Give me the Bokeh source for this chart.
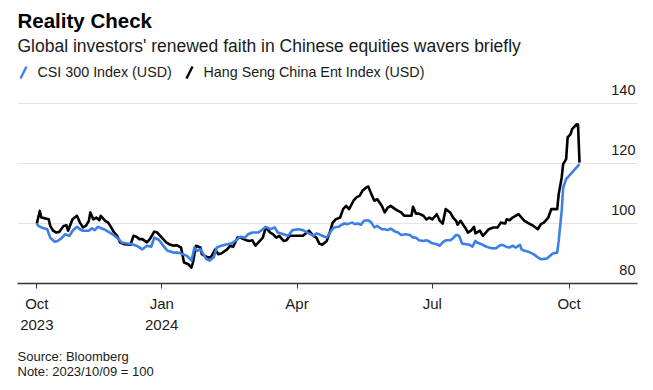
import pandas as pd
from bokeh.plotting import figure
from bokeh.layouts import column
from bokeh.models import FixedTicker, Range1d
from bokeh.embed import file_html
from bokeh.resources import INLINE
from bokeh.core.properties import value

# ---------------- data ----------------
hs_dates = [
    "2023-10-09", "2023-10-11", "2023-10-12", "2023-10-14", "2023-10-17", "2023-10-18", "2023-10-20",
    "2023-10-22", "2023-10-24", "2023-10-27", "2023-10-29", "2023-10-30", "2023-11-02", "2023-11-05",
    "2023-11-07", "2023-11-09", "2023-11-11", "2023-11-13", "2023-11-14", "2023-11-16", "2023-11-18",
    "2023-11-20", "2023-11-21", "2023-11-24", "2023-11-26", "2023-11-28", "2023-11-30", "2023-12-02",
    "2023-12-04", "2023-12-07", "2023-12-11", "2023-12-13", "2023-12-15", "2023-12-17", "2023-12-19",
    "2023-12-22", "2023-12-24", "2023-12-27", "2023-12-29", "2023-12-31", "2024-01-02", "2024-01-04",
    "2024-01-06", "2024-01-09", "2024-01-11", "2024-01-14", "2024-01-16", "2024-01-19", "2024-01-21",
    "2024-01-22", "2024-01-24", "2024-01-27", "2024-01-28", "2024-01-30", "2024-02-01", "2024-02-03",
    "2024-02-06", "2024-02-08", "2024-02-10", "2024-02-14", "2024-02-16", "2024-02-18", "2024-02-21",
    "2024-02-23", "2024-02-25", "2024-02-27", "2024-02-29", "2024-03-02", "2024-03-04", "2024-03-07",
    "2024-03-09", "2024-03-11", "2024-03-14", "2024-03-16", "2024-03-18", "2024-03-20", "2024-03-23",
    "2024-03-25", "2024-03-27", "2024-03-31", "2024-04-05", "2024-04-09", "2024-04-12", "2024-04-14",
    "2024-04-16", "2024-04-18", "2024-04-21", "2024-04-23", "2024-04-25", "2024-04-27", "2024-04-30",
    "2024-05-02", "2024-05-04", "2024-05-06", "2024-05-09", "2024-05-11", "2024-05-13", "2024-05-15",
    "2024-05-18", "2024-05-19", "2024-05-21", "2024-05-23", "2024-05-25", "2024-05-28", "2024-05-30",
    "2024-06-01", "2024-06-03", "2024-06-06", "2024-06-08", "2024-06-10", "2024-06-12", "2024-06-17",
    "2024-06-18", "2024-06-20", "2024-06-22", "2024-06-25", "2024-06-27", "2024-06-29", "2024-07-01",
    "2024-07-04", "2024-07-06", "2024-07-08", "2024-07-10", "2024-07-13", "2024-07-15", "2024-07-17",
    "2024-07-18", "2024-07-20", "2024-07-23", "2024-07-25", "2024-07-27", "2024-07-29", "2024-07-30",
    "2024-08-02", "2024-08-04", "2024-08-06", "2024-08-08", "2024-08-11", "2024-08-14", "2024-08-16",
    "2024-08-19", "2024-08-20", "2024-08-22", "2024-08-24", "2024-08-28", "2024-08-30", "2024-09-01",
    "2024-09-03", "2024-09-07", "2024-09-10", "2024-09-12", "2024-09-14", "2024-09-17", "2024-09-19",
    "2024-09-23", "2024-09-24", "2024-09-26", "2024-09-27", "2024-09-29", "2024-09-30", "2024-10-02",
    "2024-10-03", "2024-10-06", "2024-10-07", "2024-10-08",
]
hs_values = [
    100.0, 104.2, 102.0, 101.8, 101.4, 99.2, 97.6,
    97.0, 97.2, 99.2, 99.4, 97.6, 101.4, 102.6,
    100.3, 98.7, 99.2, 100.9, 103.7, 101.4, 102.0,
    101.1, 102.6, 100.9, 100.3, 98.7, 97.0, 95.9,
    93.7, 93.1, 92.9, 95.9, 95.6, 94.8, 94.8,
    93.7, 94.8, 97.3, 97.0, 95.9, 94.8, 93.7,
    93.1, 92.6, 92.8, 92.0, 87.0, 86.4, 85.3,
    87.0, 92.6, 92.0, 89.8, 89.2, 88.7, 88.7,
    91.4, 89.8, 90.0, 91.4, 92.6, 92.2, 95.3,
    95.3, 94.8, 94.4, 94.2, 94.4, 92.6, 94.2,
    95.3, 98.7, 97.0, 96.4, 95.3, 95.9, 94.2,
    94.4, 95.9, 95.9, 95.9, 97.6, 95.9, 95.3,
    93.3, 92.9, 94.2, 97.0, 100.3, 101.4, 102.0,
    104.8, 105.9, 104.8, 107.6, 108.7, 109.2, 110.9,
    112.2, 112.3, 109.8, 107.6, 108.1, 105.9, 103.7,
    105.3, 105.9, 104.8, 104.2, 103.7, 102.6, 102.6,
    105.6, 103.3, 103.3, 102.6, 101.4, 102.0, 101.4,
    103.1, 100.9, 100.0, 104.8, 103.7, 102.0, 100.9,
    99.6, 100.9, 98.7, 97.0, 97.6, 98.9, 96.7,
    97.6, 95.9, 97.0, 98.1, 98.7, 98.7, 100.3,
    100.0, 101.4, 101.1, 102.0, 103.1, 102.0, 100.9,
    100.3, 99.2, 98.1, 99.8, 100.3, 102.0, 104.8,
    104.8, 109.8, 115.3, 119.8, 121.5, 128.7, 129.8,
    131.5, 133.1, 133.0, 120.3,
]

csi_dates = [
    "2023-10-09", "2023-10-10", "2023-10-12", "2023-10-16", "2023-10-18", "2023-10-21", "2023-10-23",
    "2023-10-26", "2023-10-28", "2023-10-31", "2023-11-02", "2023-11-05", "2023-11-07", "2023-11-09",
    "2023-11-13", "2023-11-15", "2023-11-17", "2023-11-19", "2023-11-23", "2023-11-26", "2023-11-29",
    "2023-12-03", "2023-12-05", "2023-12-08", "2023-12-12", "2023-12-15", "2023-12-19", "2023-12-22",
    "2023-12-25", "2023-12-27", "2023-12-30", "2024-01-01", "2024-01-03", "2024-01-05", "2024-01-09",
    "2024-01-12", "2024-01-15", "2024-01-18", "2024-01-21", "2024-01-23", "2024-01-25", "2024-01-27",
    "2024-01-29", "2024-01-31", "2024-02-02", "2024-02-05", "2024-02-07", "2024-02-10", "2024-02-14",
    "2024-02-17", "2024-02-20", "2024-02-23", "2024-02-26", "2024-02-28", "2024-03-02", "2024-03-06",
    "2024-03-09", "2024-03-11", "2024-03-14", "2024-03-17", "2024-03-19", "2024-03-23", "2024-03-26",
    "2024-03-29", "2024-04-02", "2024-04-05", "2024-04-08", "2024-04-12", "2024-04-14", "2024-04-16",
    "2024-04-18", "2024-04-21", "2024-04-24", "2024-04-26", "2024-04-29", "2024-05-01", "2024-05-03",
    "2024-05-05", "2024-05-08", "2024-05-10", "2024-05-12", "2024-05-14", "2024-05-16", "2024-05-19",
    "2024-05-21", "2024-05-23", "2024-05-25", "2024-05-28", "2024-05-30", "2024-06-01", "2024-06-03",
    "2024-06-06", "2024-06-08", "2024-06-10", "2024-06-13", "2024-06-16", "2024-06-18", "2024-06-20",
    "2024-06-22", "2024-06-25", "2024-06-27", "2024-06-29", "2024-07-01", "2024-07-04", "2024-07-06",
    "2024-07-08", "2024-07-10", "2024-07-13", "2024-07-15", "2024-07-17", "2024-07-19", "2024-07-21",
    "2024-07-24", "2024-07-26", "2024-07-28", "2024-07-30", "2024-07-31", "2024-08-04", "2024-08-06",
    "2024-08-08", "2024-08-11", "2024-08-13", "2024-08-15", "2024-08-17", "2024-08-20", "2024-08-22",
    "2024-08-24", "2024-08-26", "2024-08-29", "2024-08-30", "2024-09-01", "2024-09-03", "2024-09-07",
    "2024-09-10", "2024-09-12", "2024-09-16", "2024-09-18", "2024-09-20", "2024-09-23", "2024-09-24",
    "2024-09-26", "2024-09-27", "2024-09-29", "2024-10-02", "2024-10-08",
]
csi_values = [
    100.0, 99.2, 98.7, 98.1, 95.3, 93.9, 94.2,
    95.3, 96.4, 95.9, 97.6, 98.9, 98.1, 97.6,
    97.6, 98.4, 97.8, 98.9, 98.1, 97.3, 96.4,
    94.8, 93.7, 93.4, 93.1, 92.6, 91.4, 92.6,
    92.3, 95.3, 94.6, 93.3, 92.0, 90.9, 90.3,
    90.3, 89.8, 89.2, 87.6, 92.0, 90.9, 91.4,
    89.8, 88.1, 87.6, 88.7, 92.0, 92.6, 93.1,
    93.4, 94.4, 95.6, 95.3, 96.4, 97.0, 97.0,
    98.1, 98.9, 98.1, 98.7, 97.0, 96.4, 95.9,
    97.8, 98.1, 97.8, 97.0, 95.9, 96.7, 96.4,
    95.9, 95.3, 97.6, 98.7, 98.9, 99.6, 100.0,
    99.8, 100.3, 99.8, 100.0, 99.6, 100.9, 101.1,
    100.3, 98.7, 99.2, 98.1, 98.1, 97.8, 98.3,
    97.3, 97.0, 96.2, 96.4, 96.2, 95.3, 95.3,
    94.4, 94.2, 94.4, 94.0, 93.4, 93.1, 92.6,
    93.7, 94.4, 94.4, 95.1, 96.2, 95.9, 93.3,
    93.1, 92.9, 92.3, 94.2, 93.7, 92.9, 92.3,
    92.0, 91.7, 91.8, 92.6, 92.9, 92.2, 92.0,
    92.6, 92.0, 92.9, 91.4, 90.9, 90.7, 89.8,
    88.7, 88.1, 88.3, 89.2, 90.0, 90.3, 94.2,
    104.2, 112.0, 114.8, 116.5, 119.8,
]

y_ticks = [80, 100, 120, 140]
y_tick_labels = ["80", "100", "120", "140"]
x_tick_dates = ["2023-10-09", "2024-01-01", "2024-04-01", "2024-07-01", "2024-10-01"]
x_tick_labels = ["Oct\n2023", "Jan\n2024", "Apr", "Jul", "Oct"]

series_names = ["CSI 300 Index (USD)", "Hang Seng China Ent Index (USD)"]
title_text = "Reality Check"
subtitle_text = "Global investors' renewed faith in Chinese equities wavers briefly"
source_text = "Source: Bloomberg"
note_text = "Note: 2023/10/09 = 100"

# ---------------- styling ----------------
FONT = "Liberation Sans"
BLUE = "#3d7fe8"
BLACK = "#000000"
GRID = "#e3e3e3"
TXT = "#1a1a1a"
W = 653
LEFT, RIGHT = 17, 16          # borders around the plotting frame
H_HEAD, H_MAIN, H_FOOT = 80, 260, 50


def blank(height):
    f = figure(width=W, height=height, x_range=Range1d(LEFT, W - RIGHT), y_range=Range1d(0, height),
               x_axis_location=None, y_axis_location=None, output_backend="svg",
               toolbar_location=None, min_border_left=LEFT, min_border_right=RIGHT,
               min_border_top=0, min_border_bottom=0)
    f.grid.visible = False
    f.outline_line_color = None
    return f


# ---------------- header ----------------
head = blank(H_HEAD)
head.text(x=[LEFT], y=[60.5], text=[title_text], text_font=value(FONT), text_font_size="20.5px",
          text_font_style="bold", text_color=BLACK, text_baseline="middle")
head.text(x=[LEFT], y=[34.5], text=[subtitle_text], text_font=value(FONT), text_font_size="17.5px",
          text_color=TXT, text_baseline="middle")
head.text(x=[37, 203], y=[8.5, 8.5], text=series_names, text_font=value(FONT), text_font_size="14.3px",
          text_color=TXT, text_baseline="middle")
head.segment(x0=[20, 186], y0=[2, 2], x1=[26, 192], y1=[14, 14], line_color=[BLUE, BLACK],
             line_width=2.4)

# ---------------- main chart ----------------
x_start = pd.Timestamp("2023-09-26")
x_end = pd.Timestamp("2024-11-16")

p = figure(
    width=W, height=H_MAIN,
    x_axis_type="datetime",
    x_range=Range1d(x_start, x_end),
    y_range=Range1d(80, 147.7),
    y_axis_location=None,
    output_backend="svg",
    toolbar_location=None,
    min_border_left=LEFT, min_border_right=RIGHT, min_border_top=0, min_border_bottom=57,
)
p.outline_line_color = None
p.xgrid.visible = False
p.ygrid.ticker = FixedTicker(ticks=y_ticks)
p.ygrid.grid_line_color = GRID
p.ygrid.grid_line_width = 1

tick_ms = [int(pd.Timestamp(d).value // 10**6) for d in x_tick_dates]
xa = p.xaxis[0]
xa.ticker = FixedTicker(ticks=tick_ms)
xa.major_label_overrides = {t: lab for t, lab in zip(tick_ms, x_tick_labels)}
xa.axis_line_color = "#333333"
xa.axis_line_width = 1.3
xa.major_tick_line_color = "#333333"
xa.major_tick_line_width = 1
xa.major_tick_out = 5
xa.major_tick_in = 0
xa.minor_tick_line_color = None
xa.major_label_standoff = 6
xa.major_label_text_font = FONT
xa.major_label_text_font_size = "15px"
xa.major_label_text_color = TXT
xa.major_label_text_line_height = 1.25

p.line(pd.to_datetime(hs_dates), hs_values, line_color=BLACK, line_width=2.6, line_join="round")
p.line(pd.to_datetime(csi_dates), csi_values, line_color=BLUE, line_width=2.6, line_join="round")

p.text(x=[x_end] * len(y_ticks), y=y_ticks, text=y_tick_labels,
       text_align="right", text_baseline="middle", x_offset=-2, y_offset=-14,
       text_font=value(FONT), text_font_size="14.5px", text_color=TXT)

# ---------------- footer ----------------
foot = blank(H_FOOT)
foot.text(x=[LEFT, LEFT], y=[34, 19], text=[source_text, note_text], text_font=value(FONT),
          text_font_size="13px", text_color=TXT, text_baseline="middle")

layout = column(head, p, foot, spacing=0)
open("out.html", "w").write(file_html(layout, INLINE))
